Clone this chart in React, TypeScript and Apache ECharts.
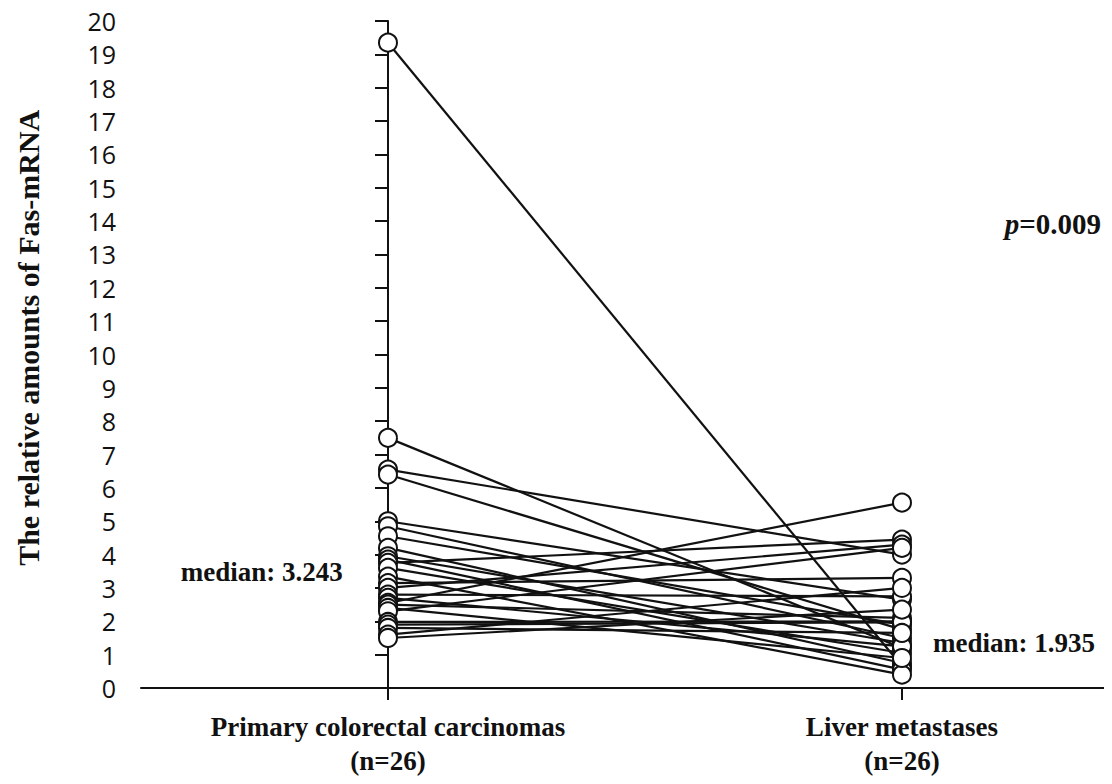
import React, { useEffect, useRef } from "react";
import * as echarts from "echarts";

const categories = ["Primary colorectal carcinomas\n(n=26)", "Liver metastases\n(n=26)"];
const primary = [19.35, 7.5, 6.55, 6.4, 5.0, 4.85, 4.55, 4.2, 3.95, 3.85, 3.75, 3.6, 3.34, 3.146, 3.0, 2.8, 2.7, 2.55, 2.5, 2.4, 2.3, 1.98, 1.9, 1.8, 1.6, 1.5];
const liver = [0.65, 1.2, 4.0, 1.75, 2.65, 1.5, 1.9, 0.75, 1.35, 0.55, 4.45, 1.05, 0.4, 3.3, 4.3, 2.75, 1.25, 5.56, 2.1, 0.9, 4.2, 2.0, 1.97, 1.65, 3.0, 2.35];
const yTicks = [0, 20, 1];
const medianLeft = "median: 3.243";
const medianRight = "median: 1.935";
const yTitle = "The relative amounts of Fas-mRNA";

export default function App() {
  const ref = useRef<HTMLDivElement>(null);
  useEffect(() => {
    if (!ref.current) return;
    const chart = echarts.init(ref.current, null, { renderer: "svg" });
    const lineSeries = primary.map((p, i) => ({
      type: "line",
      data: [[0, p], [1, liver[i]]],
      showSymbol: false,
      symbol: "none",
      lineStyle: { color: "#111", width: 2.2 },
      z: 2,
      silent: true,
    }));
    const pts: number[][] = [];
    primary.forEach((p) => pts.push([0, p]));
    liver.forEach((l) => pts.push([1, l]));
    chart.setOption({
      animation: false,
      backgroundColor: "#fff",
      grid: { left: 141, right: 0, top: 21, bottom: 96, containLabel: false },
      xAxis: {
        type: "value",
        min: -0.4805,
        max: 1.4086,
        splitLine: { show: false },
        axisLine: { lineStyle: { color: "#111", width: 2 } },
        axisTick: { show: true, customValues: [0, 1], length: 12, lineStyle: { color: "#111", width: 2 } },
        axisLabel: {
          customValues: [0, 1],
          formatter: (v: number) => categories[Math.round(v)] ?? "",
          fontFamily: "Liberation Serif",
          fontWeight: "bold",
          fontSize: 27,
          lineHeight: 34,
          color: "#111",
          margin: 22,
        },
      },
      yAxis: {
        type: "value",
        min: yTicks[0],
        max: yTicks[1],
        interval: yTicks[2],
        splitLine: { show: false },
        axisLine: { show: true, lineStyle: { color: "#111", width: 2 } },
        axisTick: { show: true, length: 13, lineStyle: { color: "#111", width: 2 } },
        axisLabel: { fontFamily: "Open Sans", fontSize: 25, lineHeight: 28, color: "#111", margin: 25 },
      },
      series: [
        ...lineSeries,
        {
          type: "scatter",
          data: pts,
          symbol: "circle",
          symbolSize: 18,
          itemStyle: { color: "#fff", borderColor: "#111", borderWidth: 2, opacity: 1 },
          z: 5,
          silent: true,
        },
      ],
    });
    const pL = chart.convertToPixel({ gridIndex: 0 }, [-0.088, 3.48]);
    const pR = chart.convertToPixel({ gridIndex: 0 }, [1.0605, 1.35]);
    const pP = chart.convertToPixel({ gridIndex: 0 }, [1.2, 13.9]);
    const pT = chart.convertToPixel({ gridIndex: 0 }, [0, 10.5]);
    const serifBold = { fontFamily: "Liberation Serif", fontWeight: "bold", fill: "#111" };
    chart.setOption({
      graphic: [
        { type: "text", x: pL[0], y: pL[1], style: { ...serifBold, text: medianLeft, fontSize: 27, align: "right", verticalAlign: "middle" } },
        { type: "text", x: pR[0], y: pR[1], style: { ...serifBold, text: medianRight, fontSize: 27, align: "left", verticalAlign: "middle" } },
        {
          type: "text", x: pP[0], y: pP[1],
          style: {
            ...serifBold,
            text: "{i|p}=0.009",
            fontSize: 29,
            align: "left",
            verticalAlign: "middle",
            rich: { i: { fontFamily: "Liberation Serif", fontWeight: "bold", fontStyle: "italic", fontSize: 29 } },
          },
        },
        { type: "text", x: 28, y: pT[1], rotation: Math.PI / 2, style: { ...serifBold, text: yTitle, fontSize: 30, align: "center", verticalAlign: "middle" } },
      ],
    });
    return () => chart.dispose();
  }, []);
  return <div ref={ref} style={{ width: 1112, height: 784, margin: -8 }} />;
}
